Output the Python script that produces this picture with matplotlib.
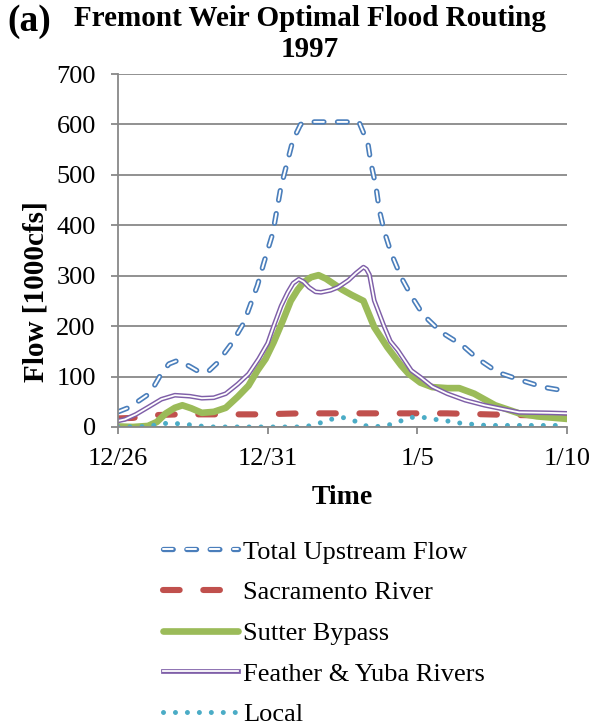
import matplotlib.pyplot as plt

plt.rcParams['font.family'] = ['Liberation Serif', 'DejaVu Serif']
plt.rcParams['lines.scale_dashes'] = False

# days after 12/26 and flows in 1000 cfs
total_days = [0, 0.3, 0.7, 1.07, 1.41, 1.7, 2.0, 2.4, 2.75, 3.05, 3.3, 3.8, 4.2, 4.66,
              4.87, 5.17, 5.44, 5.84, 6.1, 6.3, 8.05, 8.35, 8.45, 8.62, 8.73, 8.9, 9.13,
              9.46, 9.8, 10.2, 10.8, 11.5, 12.0, 12.7, 13.5, 14.2, 15]
total_flow = [30, 37, 52, 67, 102, 125, 132, 120, 108, 112, 126, 166, 206, 281,
              325, 384, 475, 568, 600, 605, 605, 562, 523, 476, 430, 387, 344,
              297, 260, 222, 188, 162, 136, 108, 92, 79, 71]

sac_days = [0, 0.5, 1.0, 2.0, 3.3, 4.7, 6.1, 7.4, 9.0, 11.0, 13.0, 15]
sac_flow = [17, 18, 23, 25, 25, 25, 27, 27, 27, 27, 24, 22]

sutter_days = [0, 0.5, 1.0, 1.3, 1.6, 1.9, 2.15, 2.45, 2.8, 3.2, 3.6, 4.0, 4.36, 4.66,
               4.93, 5.2, 5.5, 5.77, 6.0, 6.2, 6.45, 6.7, 6.95, 7.2, 7.5, 7.8, 8.0,
               8.2, 8.56, 9.0, 9.46, 9.7, 10.1, 10.5, 11.0, 11.4, 11.9, 12.6, 13.0,
               13.4, 14.0, 14.4, 15]
sutter_flow = [1, 0, 2, 10, 27, 38, 43, 37, 28, 30, 38, 60, 82, 112,
               135, 168, 210, 250, 272, 287, 297, 301, 294, 284, 272, 262, 256,
               250, 198, 158, 122, 106, 88, 79, 77, 77, 66, 43, 35,
               27, 21, 19, 16]

feather_days = [0, 0.23, 0.6, 1.0, 1.45, 1.9, 2.4, 2.8, 3.2, 3.6, 4.0, 4.36, 4.7, 5.0,
                5.2, 5.45, 5.67, 5.85, 6.04, 6.2, 6.38, 6.6, 6.78, 7.1, 7.35, 7.7,
                7.95, 8.2, 8.3, 8.4, 8.56, 8.9, 9.1, 9.35, 9.8, 10.1, 10.5, 11.0,
                11.6, 12.25, 13.4, 14.4, 15]
feather_flow = [12, 15, 25, 39, 55, 63, 61, 57, 58, 66, 85, 105, 135, 166,
                200, 240, 267, 285, 293, 288, 277, 268, 267, 271, 277, 291,
                305, 317, 313, 302, 251, 198, 170, 152, 112, 99, 80, 66,
                53, 43, 29, 28, 27]

local_days = [0, 0.3, 1.0, 1.5, 1.9, 2.3, 2.7, 3.2, 6.0, 6.3, 6.7, 7.1, 7.5, 7.9,
              8.3, 8.7, 9.0, 9.4, 9.8, 10.2, 10.6, 11.1, 11.5, 11.9, 12.3, 15]
local_flow = [0, 0, 1, 7, 7, 5, 2, 0, 0, 1, 7, 15, 19, 12,
              2, 1, 3, 11, 19, 19, 15, 11, 7, 5, 3, 3]

tick_days = [0, 5, 10, 15]
tick_labels = ['12/26', '12/31', '1/5', '1/10']

fig = plt.figure(figsize=(5.9, 7.27), dpi=100)
ax = fig.add_axes([0.2, 0.4127, 0.761, 0.4855])

blue_dash = (0, (7.0, 9.8))
outer_blue, = ax.plot(total_days, total_flow, color='#4A7EBB', lw=3.8,
                      linestyle=blue_dash, dash_capstyle='round', solid_joinstyle='round')
inner_blue, = ax.plot(total_days, total_flow, color='white', lw=1.4,
                      linestyle=blue_dash, dash_capstyle='round')

sac_line, = ax.plot(sac_days, sac_flow, color='#C0504D', lw=4.4,
                    linestyle=(0, (12, 17)), dash_capstyle='round')

sutter_line, = ax.plot(sutter_days, sutter_flow, color='#9BBB59', lw=4.8,
                       solid_capstyle='round', solid_joinstyle='round')

outer_purple, = ax.plot(feather_days, feather_flow, color='#7F5FA8', lw=3.4,
                        solid_joinstyle='round')
inner_purple, = ax.plot(feather_days, feather_flow, color='white', lw=1.3,
                        solid_joinstyle='round')

local_line, = ax.plot(local_days, local_flow, color='#4BACC6', lw=3.6,
                      linestyle=(0, (0.01, 8.6)), dash_capstyle='round')

ax.set_xlim(0, 15)
ax.set_ylim(0, 700)
ax.set_yticks(range(0, 701, 100))
ax.set_xticks(tick_days)
ax.set_xticklabels(tick_labels)
ax.yaxis.grid(True, color='#888888', lw=1.3)
ax.set_axisbelow(True)
for side in ['top', 'right']:
    ax.spines[side].set_visible(False)
for side in ['left', 'bottom']:
    ax.spines[side].set_color('#888888')
    ax.spines[side].set_linewidth(1.3)
ax.tick_params(axis='both', colors='#888888', width=1.3, length=5, labelsize=19,
               labelcolor='black')
ax.tick_params(axis='y', pad=11)
ax.tick_params(axis='x', pad=10)

ax.set_ylabel('Flow [1000cfs]', fontsize=21, fontweight='bold')
ax.yaxis.set_label_coords(-0.152, 0.383)
ax.text(0.5, -0.2, 'Time', transform=ax.transAxes, ha='center', va='center',
        fontsize=20, fontweight='bold')

fig.text(0.525, 0.993, 'Fremont Weir Optimal Flood Routing\n1997', ha='center', va='top',
         fontsize=21, fontweight='bold', linespacing=1.2)
fig.text(0.012, 0.994, '(a)', ha='left', va='top', fontsize=27, fontweight='bold')

handles = [(outer_blue, inner_blue), sac_line, sutter_line,
           (outer_purple, inner_purple), local_line]
names = ['Total Upstream Flow', 'Sacramento River', 'Sutter Bypass',
         'Feather & Yuba Rivers', 'Local']
fig.legend(handles, names, loc='upper left', bbox_to_anchor=(0.276, 0.257),
           frameon=False, fontsize=19, handlelength=2.85, handletextpad=0.2,
           labelspacing=0.65, borderaxespad=0, borderpad=0)

fig.savefig('out.png', dpi=100)
